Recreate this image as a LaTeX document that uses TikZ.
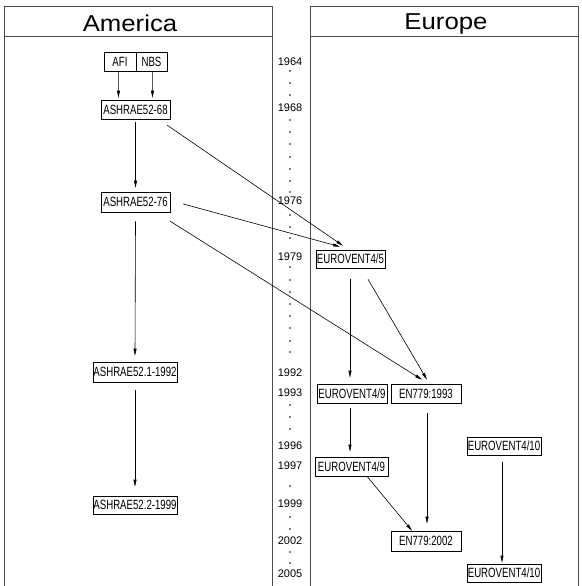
\documentclass[tikz,border=0pt]{standalone}
\usepackage{fontspec}
\setmainfont{Liberation Sans}
\newfontfamily\boxfont[FakeStretch=0.72]{Liberation Sans}
\newfontfamily\titlefont[FakeStretch=1.12]{Liberation Sans}
\usetikzlibrary{arrows.meta}
\tikzset{
  panel/.style={draw=black!70, line width=1pt},
  stdbox/.style={draw, line width=0.6pt, inner sep=0pt, minimum height=19pt,
    font=\boxfont\fontsize{13.4}{15}\selectfont},
  arr/.style={draw, line width=0.6pt, -{Triangle[length=7pt,width=3pt]}},
  yearlbl/.style={inner sep=0pt, font=\fontsize{11}{13}\selectfont},
  ttl/.style={inner sep=0pt, anchor=base, font=\titlefont\fontsize{23}{26}\selectfont}
}
\begin{document}
\begin{tikzpicture}[x=1pt,y=-1pt]
\useasboundingbox (0,0) rectangle (581,586);
% panels
\draw[panel] (4,586) -- (4,7) -- (272,7) -- (272,586);
\draw[panel] (4,37) -- (272,37);
\draw[panel] (310,586) -- (310,7) -- (578,7) -- (578,586);
\draw[panel] (310,37) -- (578,37);
\node[ttl] (tam) at (130,31.5) {America};
\node[ttl] (teu) at (446,29.5) {Europe};
% years
\foreach \yr/\yy in {1964/62,1968/108,1976/201,1979/257,1992/373,1993/393,1996/446,1997/466,1999/504,2002/541,2005/574}
  \node[yearlbl] (y\yr) at (290,\yy) {\yr};
\foreach \dy in {71,83,95,120,132,144,157,169,181,192,215,227,238,267,280,292,304,316,328,341,352,405,417,429,486,517,529,552,563}
  \fill (290,\dy) circle (0.85);
% America nodes
\node[stdbox, minimum width=32pt] (afi) at (120,61.5) {AFI};
\node[stdbox, minimum width=31pt] (nbs) at (151.5,61.5) {NBS};
\node[stdbox, minimum width=69pt] (a68) at (135.5,109.5) {ASHRAE52-68};
\node[stdbox, minimum width=69pt, minimum height=20pt] (a76) at (135.5,202) {ASHRAE52-76};
\node[stdbox, minimum width=84pt, minimum height=20pt] (a92) at (135,372) {ASHRAE52.1-1992};
\node[stdbox, minimum width=84pt, minimum height=18pt] (a99) at (135,505) {ASHRAE52.2-1999};
% Europe nodes
\node[stdbox, minimum width=69pt, minimum height=18pt] (ev45) at (350.5,259) {EUROVENT4/5};
\node[stdbox, minimum width=70pt] (ev49a) at (352,393.5) {EUROVENT4/9};
\node[stdbox, minimum width=70pt] (en93) at (426,393.5) {EN779:1993};
\node[stdbox, minimum width=73pt] (ev49b) at (351.5,466.5) {EUROVENT4/9};
\node[stdbox, minimum width=70pt, minimum height=20pt] (en02) at (426,541) {EN779:2002};
\node[stdbox, minimum width=74pt, minimum height=18pt] (ev410a) at (504,446) {EUROVENT4/10};
\node[stdbox, minimum width=74pt, minimum height=18pt] (ev410b) at (504,573) {EUROVENT4/10};
% connectors America
\draw[arr] ([shift={(-1.7,0)}]afi.south) -- ([shift={(-17,-2)}]a68.north);
\draw[arr] ([shift={(0.8,0)}]nbs.south) -- ([shift={(17,-2)}]a68.north);
\draw[arr] ([shift={(0,3)}]a68.south) -- ([shift={(0,-4)}]a76.north);
\draw[arr] ([shift={(0,9)}]a76.south) -- ([shift={(0,-6)}]a92.north);
\draw[arr] ([shift={(0,8)}]a92.south) -- ([shift={(0,-9)}]a99.north);
% cross connectors
\draw[arr] ([shift={(-3,6)}]a68.south east) -- ([shift={(-7.5,-4)}]ev45.north);
\draw[arr] ([shift={(13,2)}]a76.east) -- ([shift={(-10.5,-3)}]ev45.north);
\draw[arr] ([shift={(0,9)}]a76.south east) -- ([shift={(-4,-4)}]en93.north);
% connectors Europe
\draw[arr] ([shift={(-0.5,11)}]ev45.south) -- ([shift={(-2,-6)}]ev49a.north);
\draw[arr] ([shift={(17.5,11)}]ev45.south) -- ([shift={(1,-4)}]en93.north);
\draw[arr] ([shift={(-2,5)}]ev49a.south) -- ([shift={(-1.5,-5)}]ev49b.north);
\draw[arr] ([shift={(1,10)}]en93.south) -- ([shift={(1,-7)}]en02.north);
\draw[arr] ([shift={(15.5,0)}]ev49b.south) -- ([shift={(-14,0)}]en02.north);
\draw[arr] ([shift={(-2,7)}]ev410a.south) -- ([shift={(-2,-1)}]ev410b.north);
\end{tikzpicture}
\end{document}
